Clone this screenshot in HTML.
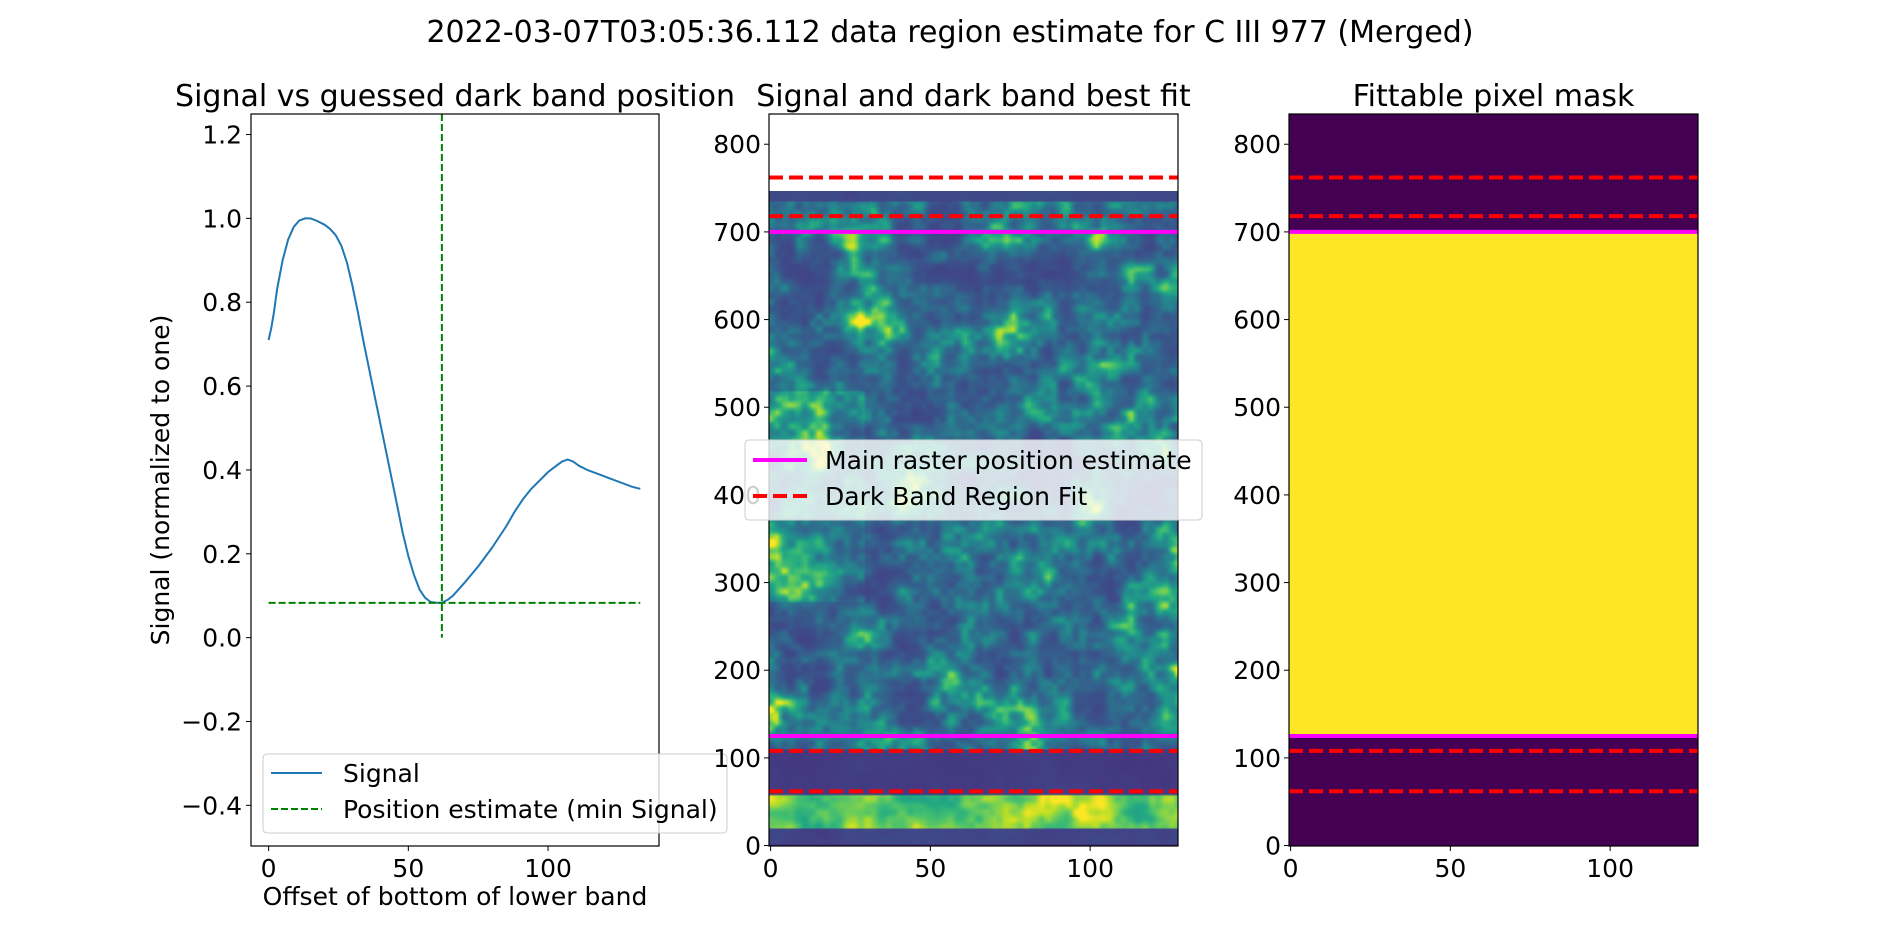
<!DOCTYPE html>
<html><head><meta charset="utf-8"><style>
html,body{margin:0;padding:0;background:#fff;width:1900px;height:950px;overflow:hidden}
#heat{position:absolute;left:769px;top:191px;width:409px;height:655px}
svg{position:absolute;left:0;top:0}
text{font-family:"DejaVu Sans","Liberation Sans",sans-serif;fill:#000}
</style></head><body>
<canvas id="heat" width="128" height="373"></canvas>
<svg id="svg" width="1900" height="950" xmlns="http://www.w3.org/2000/svg"></svg>
<script>
// ---- data ----
const sigX=[0,1,2,3,5,7,9,11,13,15,17,20,22,24,26,28,30,32,34,36,38,40,42,44,46,48,50,52,54,56,58,60,62,64,66,70,75,80,85,88,91,94,97,100,103,105,107,109,111,114,118,122,126,130,133];
const sigY=[0.71,0.74,0.78,0.83,0.90,0.95,0.98,0.995,1.0,1.0,0.995,0.985,0.975,0.96,0.935,0.895,0.84,0.775,0.705,0.64,0.575,0.51,0.445,0.38,0.315,0.25,0.195,0.15,0.115,0.095,0.085,0.083,0.083,0.09,0.10,0.13,0.17,0.215,0.265,0.30,0.33,0.355,0.375,0.395,0.41,0.42,0.425,0.42,0.41,0.40,0.39,0.38,0.37,0.36,0.355];
const minPos=[62];
const minVal=[0.083];
const leftYTicks=[-0.4,-0.2,0.0,0.2,0.4,0.6,0.8,1.0,1.2];
const leftXTicks=[0,50,100];
const imgYTicks=[0,100,200,300,400,500,600,700,800];
const imgXTicks=[0,50,100];
const rasterLines=[700,125];
const bandLines=[762,718,108,62];
const maskRange=[125,700];
const dataTop=[747];

const NS="http://www.w3.org/2000/svg";
const svg=document.getElementById('svg');
function el(tag,attrs,parent){const e=document.createElementNS(NS,tag);for(const k in attrs)e.setAttribute(k,attrs[k]);(parent||svg).appendChild(e);return e;}
function txt(s,attrs,parent){const e=el('text',attrs,parent);e.textContent=s;return e;}

const L={x0:251,x1:659,y0:114,y1:846,xmin:-6.3,xmax:139.7,ymin:-0.497,ymax:1.249};
const lx=v=>L.x0+(v-L.xmin)/(L.xmax-L.xmin)*(L.x1-L.x0);
const ly=v=>L.y1-(v-L.ymin)/(L.ymax-L.ymin)*(L.y1-L.y0);
const M={x0:769,x1:1178,y0:114,y1:846,xmin:-0.5,xmax:127.5,ymin:-0.5,ymax:834.5};
const R={x0:1289,x1:1698,y0:114,y1:846,xmin:-0.5,xmax:127.5,ymin:-0.5,ymax:834.5};
const ix=(A,v)=>A.x0+(v-A.xmin)/(A.xmax-A.xmin)*(A.x1-A.x0);
const iy=(A,v)=>A.y1-(v-A.ymin)/(A.ymax-A.ymin)*(A.y1-A.y0);

let t=txt('2022-03-07T03:05:36.112 data region estimate for C III 977 (Merged)',{x:950,y:42,'text-anchor':'middle','font-size':30});


// ---- left panel ----
const gL=el('g',{});

t=txt('Signal vs guessed dark band position',{x:455,y:106,'text-anchor':'middle','font-size':30},gL);

let pts=sigX.map((x,i)=>lx(x).toFixed(1)+','+ly(sigY[i]).toFixed(1)).join(' ');
let p=el('polyline',{points:pts,fill:'none',stroke:'#1f77b4','stroke-width':2,'stroke-linejoin':'round'},gL);

p=el('line',{x1:lx(minPos[0]),x2:lx(minPos[0]),y1:L.y0,y2:ly(0),stroke:'#008000','stroke-width':2,'stroke-dasharray':'7,3'},gL);

p=el('line',{x1:lx(0),x2:lx(133),y1:ly(minVal[0]),y2:ly(minVal[0]),stroke:'#008000','stroke-width':2,'stroke-dasharray':'7,3'},gL);

el('rect',{x:L.x0,y:L.y0,width:L.x1-L.x0,height:L.y1-L.y0,fill:'none',stroke:'#000','stroke-width':1.2},gL);
leftYTicks.forEach(v=>{const y=ly(v);el('line',{x1:L.x0-5,x2:L.x0,y1:y,y2:y,stroke:'#000'},gL);
 const s=(v<0?'\u2212':'')+Math.abs(v).toFixed(1);
 const e=txt(s,{x:L.x0-9,y:y+9,'text-anchor':'end','font-size':25},gL);
 });
leftXTicks.forEach(v=>{const x=lx(v);el('line',{x1:x,x2:x,y1:L.y1,y2:L.y1+5,stroke:'#000'},gL);
 const e=txt(String(v),{x:x,y:L.y1+31,'text-anchor':'middle','font-size':25},gL);
 });
t=txt('Offset of bottom of lower band',{x:455,y:905,'text-anchor':'middle','font-size':25},gL);

t=txt('Signal (normalized to one)',{x:0,y:0,'text-anchor':'middle','font-size':25,transform:'translate(169,480) rotate(-90)'},gL);

const lg=el('g',{},gL);

el('rect',{x:263,y:754,width:464,height:79,rx:4,fill:'#fff','fill-opacity':0.8,stroke:'#ccc'},lg);
el('line',{x1:271,x2:322,y1:773,y2:773,stroke:'#1f77b4','stroke-width':2},lg);
t=txt('Signal',{x:343,y:782,'font-size':25},lg);
el('line',{x1:271,x2:322,y1:809,y2:809,stroke:'#008000','stroke-width':2,'stroke-dasharray':'7,3'},lg);
t=txt('Position estimate (min Signal)',{x:343,y:818,'font-size':25},lg);

// ---- image panels ----
function imgAxes(A,title,name){
 const g=el('g',{});
 const tt=txt(title,{x:(A.x0+A.x1)/2,y:106,'text-anchor':'middle','font-size':30},g);
 
 return g;}
function lines(A,g){
 rasterLines.forEach(v=>{const e=el('line',{x1:A.x0,x2:A.x1,y1:iy(A,v),y2:iy(A,v),stroke:'#ff00ff','stroke-width':4},g);
  });
 bandLines.forEach(v=>{const e=el('line',{x1:A.x0,x2:A.x1,y1:iy(A,v),y2:iy(A,v),stroke:'#ff0000','stroke-width':4,'stroke-dasharray':'14,6'},g);
  });
}
function frame(A,g){
 el('rect',{x:A.x0,y:A.y0,width:A.x1-A.x0,height:A.y1-A.y0,fill:'none',stroke:'#000','stroke-width':1.2},g);
 imgYTicks.forEach(v=>{const y=iy(A,v);el('line',{x1:A.x0-5,x2:A.x0,y1:y,y2:y,stroke:'#000'},g);
  const e=txt(String(v),{x:A.x0-8,y:y+9,'text-anchor':'end','font-size':25},g);
  });
 imgXTicks.forEach(v=>{const x=ix(A,v);el('line',{x1:x,x2:x,y1:A.y1,y2:A.y1+5,stroke:'#000'},g);
  const e=txt(String(v),{x:x,y:A.y1+31,'text-anchor':'middle','font-size':25},g);
  });
}
const gR=imgAxes(R,'Fittable pixel mask','mask-panel');
el('rect',{x:R.x0,y:R.y0,width:R.x1-R.x0,height:R.y1-R.y0,fill:'#440154'},gR);
p=el('rect',{x:R.x0,y:iy(R,maskRange[1]),width:R.x1-R.x0,height:iy(R,maskRange[0])-iy(R,maskRange[1]),fill:'#fde725'},gR);

lines(R,gR);frame(R,gR);
const gM=imgAxes(M,'Signal and dark band best fit','fit-panel');
lines(M,gM);frame(M,gM);
const mg=el('g',{},gM);

el('rect',{x:745,y:440,width:457,height:80,rx:4,fill:'#fff','fill-opacity':0.8,stroke:'#ccc'},mg);
el('line',{x1:753,x2:807,y1:460,y2:460,stroke:'#ff00ff','stroke-width':4},mg);
t=txt('Main raster position estimate',{x:825,y:469,'font-size':25},mg);
el('line',{x1:753,x2:807,y1:496,y2:496,stroke:'#ff0000','stroke-width':4,'stroke-dasharray':'14,6'},mg);
t=txt('Dark Band Region Fit',{x:825,y:505,'font-size':25},mg);

// ---- heatmap texture ----
const cv=document.getElementById('heat');
cv.style.top=iy(M,dataTop[0])+'px';cv.style.height=(iy(M,-0.5)-iy(M,dataTop[0]))+'px';
const ctx=cv.getContext('2d');
const W=128,H=373;
let seed=12345;function rnd(){seed=(seed*1103515245+12345)&0x7fffffff;return seed/0x7fffffff;}
function grid(gw,gh){const a=[];for(let i=0;i<(gw+2)*(gh+2);i++)a.push(rnd());return {a,gw,gh};}
function sm(t){return t*t*(3-2*t);}
function samp(g,x,y){const xi=Math.floor(x),yi=Math.floor(y),fx=sm(x-xi),fy=sm(y-yi),w=g.gw+2;
 const A=g.a[yi*w+xi],B=g.a[yi*w+xi+1],C=g.a[(yi+1)*w+xi],D=g.a[(yi+1)*w+xi+1];
 return (A*(1-fx)+B*fx)*(1-fy)+(C*(1-fx)+D*fx)*fy;}
const g1=grid(10,16),g2=grid(26,42),g3=grid(60,96);
const vir=[[68,1,84],[72,36,117],[65,68,135],[53,95,141],[42,120,142],[33,145,140],[34,168,132],[68,191,112],[122,209,81],[189,223,38],[253,231,37]];
function cmap(t){t=Math.max(0,Math.min(1,t))*10;const i=Math.min(9,Math.floor(t)),f=t-i;return vir[i].map((c,k)=>Math.round(c+(vir[i+1][k]-c)*f));}
const img=ctx.createImageData(W,H);
for(let r=0;r<H;r++){const v=dataTop[0]*(1-r/H);
 for(let c=0;c<W;c++){
  const u=c/W,w=v/dataTop[0];
  const n=0.45*samp(g1,u*9,w*15)+0.35*samp(g2,u*25,w*41)+0.2*samp(g3,u*59,w*95);
  let tv;
  if(v<4) tv=0.12;
  else if(v<22) tv=0.16+0.08*n;
  else if(v<60) tv=0.5+0.7*Math.pow(n,1.5);
  else if(v<112) tv=0.15+0.05*n;
  else if(v>735) tv=0.18+0.08*n;
  else{let b=0.2+1.2*Math.pow(n,2.8);
   if(c<30&&v>280&&v<520) b+=0.25*n;
   tv=b;}
  const col=cmap(tv);const k=(r*W+c)*4;
  img.data[k]=col[0];img.data[k+1]=col[1];img.data[k+2]=col[2];img.data[k+3]=255;}}
ctx.putImageData(img,0,0);
</script>
</body></html>
